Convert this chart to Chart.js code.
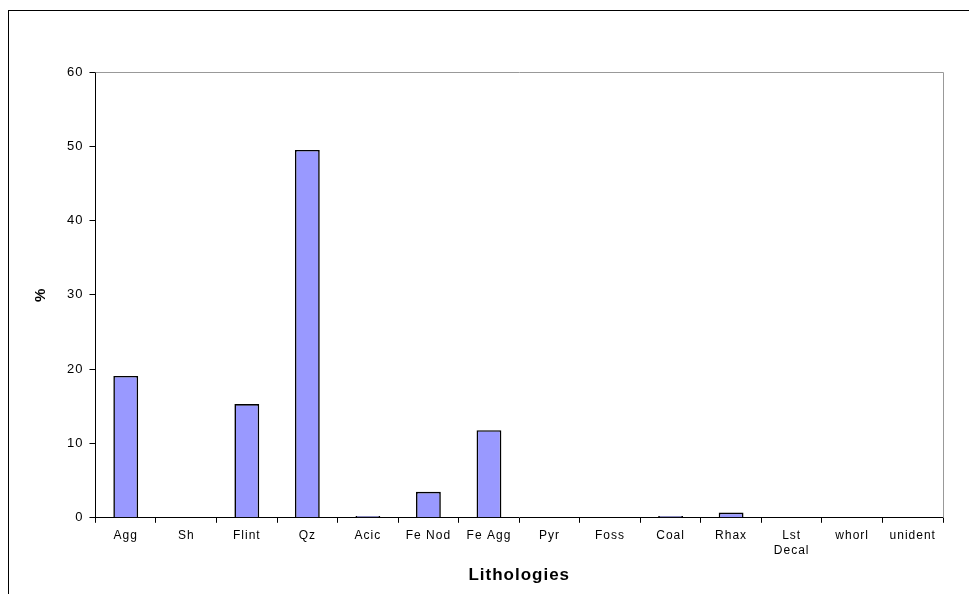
<!DOCTYPE html>
<html>
<head>
<meta charset="utf-8">
<script src="https://cdn.jsdelivr.net/npm/chart.js@4.4.1/dist/chart.umd.min.js"></script>
<style>
    html, body { margin: 0; padding: 0; background: #fff; overflow: hidden; }
    .frame {
        position: absolute; left: 8px; top: 10px; width: 1000px; height: 640px;
        border-top: 1px solid #000; border-left: 1px solid #000;
    }
    .chart-wrap { position: absolute; left: 0; top: 0; width: 969px; height: 594px; }
</style>
</head>
<body>
<div class="frame"></div>
<div class="chart-wrap"><canvas id="lithChart"></canvas></div>
<script>
const categories = ['Agg', 'Sh', 'Flint', 'Qz', 'Acic', 'Fe Nod', 'Fe Agg', 'Pyr', 'Foss', 'Coal', 'Rhax', ['Lst', 'Decal'], 'whorl', 'unident'];
const percentages = [19.1, 0, 15.3, 49.5, 0.25, 3.5, 11.8, 0, 0, 0.25, 0.7, 0, 0, 0];
const yTicks = [0, 10, 20, 30, 40, 50, 60];

// the original's text is slightly letter-spaced
const spacedText = {
    id: 'spacedText',
    beforeUpdate(chart) { chart.ctx.letterSpacing = '1px'; },
    beforeDraw(chart) { chart.ctx.letterSpacing = '1px'; }
};

// grey top/right edge of the plot area, like the spreadsheet original
const plotFrame = {
    id: 'plotFrame',
    afterDraw(chart) {
        const { ctx, chartArea } = chart;
        ctx.save();
        ctx.strokeStyle = '#999';
        ctx.lineWidth = 1;
        ctx.beginPath();
        ctx.moveTo(chartArea.left, chartArea.top + 0.5);
        ctx.lineTo(chartArea.right + 0.5, chartArea.top + 0.5);
        ctx.lineTo(chartArea.right + 0.5, chartArea.bottom);
        ctx.stroke();
        ctx.restore();
    }
};

Chart.defaults.font.family = '"Liberation Sans", Arial, sans-serif';
Chart.defaults.color = '#000';

new Chart(document.getElementById('lithChart'), {
    type: 'bar',
    data: {
        labels: categories,
        datasets: [{
            label: '%',
            data: percentages,
            backgroundColor: '#9999FF',
            borderColor: '#000',
            borderWidth: 1.6,
            barPercentage: 0.41,
            categoryPercentage: 1
        }]
    },
    options: {
        responsive: true,
        maintainAspectRatio: false,
        animation: false,
        layout: { padding: { left: 28, right: 26, top: 72, bottom: 4 } },
        plugins: {
            legend: { display: false },
            tooltip: { enabled: false }
        },
        scales: {
            x: {
                offset: true,
                grid: { offset: true, drawOnChartArea: false, drawTicks: true, tickLength: 5, color: '#000' },
                border: { display: true, color: '#000', width: 1 },
                ticks: { font: { size: 12 }, padding: 6, maxRotation: 0, autoSkip: false },
                title: { display: true, text: 'Lithologies', font: { size: 17, weight: 'bold' }, padding: { top: 2 } }
            },
            y: {
                min: 0,
                max: 60,
                afterBuildTicks: axis => { axis.ticks = yTicks.map(v => ({ value: v })); },
                grid: { drawOnChartArea: false, drawTicks: true, tickLength: 6, color: '#000' },
                border: { display: true, color: '#000', width: 1 },
                ticks: { font: { size: 13 }, padding: 6 },
                title: { display: true, text: '%', font: { size: 15, weight: 'bold' }, padding: { bottom: 11 } }
            }
        }
    },
    plugins: [spacedText, plotFrame]
});
</script>
</body>
</html>
